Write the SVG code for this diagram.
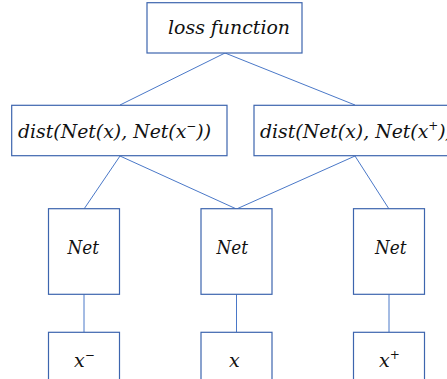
<svg xmlns="http://www.w3.org/2000/svg" width="447" height="379" viewBox="0 0 447 379">
<style>
.box{fill:#fff;stroke:#3D65AE;stroke-width:1.2}
.ln{stroke:#4A78C8;stroke-width:1;fill:none}
.t{font-family:"DejaVu Serif","Liberation Serif",serif;font-style:italic;fill:#111;font-size:19px}
.sup{font-size:12px}
</style>
<rect width="447" height="379" fill="#fff"/>
<g id="connectors">
<line class="ln" x1="225" y1="53" x2="120" y2="105"/>
<line class="ln" x1="225" y1="53" x2="355" y2="105"/>
<line class="ln" x1="120" y1="156" x2="84" y2="209"/>
<line class="ln" x1="120" y1="156" x2="236.5" y2="209"/>
<line class="ln" x1="355" y1="156" x2="236.5" y2="209"/>
<line class="ln" x1="355" y1="156" x2="389" y2="209"/>
<line class="ln" x1="84" y1="294" x2="84" y2="332"/>
<line class="ln" x1="236.5" y1="294" x2="236.5" y2="332"/>
<line class="ln" x1="389" y1="294" x2="389" y2="332"/>
</g>
<g id="loss">
<rect class="box" x="147" y="2.7" width="155" height="50.3"/>
<text class="t" x="168" y="34" textLength="122" lengthAdjust="spacingAndGlyphs">loss function</text>
</g>
<g id="dist-neg">
<rect class="box" x="11.7" y="105.3" width="215.3" height="50.4"/>
<text class="t" x="18" y="138" textLength="193" lengthAdjust="spacingAndGlyphs">dist(Net(x), Net(x<tspan class="sup" dy="-8">−</tspan><tspan dy="8">))</tspan></text>
</g>
<g id="dist-pos">
<rect class="box" x="254" y="105.3" width="200" height="50.4"/>
<text class="t" x="260" y="138" textLength="193" lengthAdjust="spacingAndGlyphs">dist(Net(x), Net(x<tspan class="sup" dy="-8">+</tspan><tspan dy="8">))</tspan></text>
</g>
<g id="net-neg">
<rect class="box" x="48.5" y="208.7" width="71" height="85.6"/>
<text class="t" x="67.5" y="254" textLength="31.5" lengthAdjust="spacingAndGlyphs">Net</text>
</g>
<g id="net-anchor">
<rect class="box" x="201" y="208.7" width="71" height="85.6"/>
<text class="t" x="216.5" y="254" textLength="31.5" lengthAdjust="spacingAndGlyphs">Net</text>
</g>
<g id="net-pos">
<rect class="box" x="353.5" y="208.7" width="71" height="85.6"/>
<text class="t" x="375" y="254" textLength="31.5" lengthAdjust="spacingAndGlyphs">Net</text>
</g>
<g id="x-neg">
<rect class="box" x="48.5" y="332.3" width="71" height="60"/>
<text class="t" x="74" y="367">x<tspan class="sup" dy="-8">−</tspan></text>
</g>
<g id="x-anchor">
<rect class="box" x="201" y="332.3" width="71" height="60"/>
<text class="t" x="229" y="367">x</text>
</g>
<g id="x-pos">
<rect class="box" x="353.5" y="332.3" width="71" height="60"/>
<text class="t" x="379" y="367">x<tspan class="sup" dy="-8">+</tspan></text>
</g>
</svg>
